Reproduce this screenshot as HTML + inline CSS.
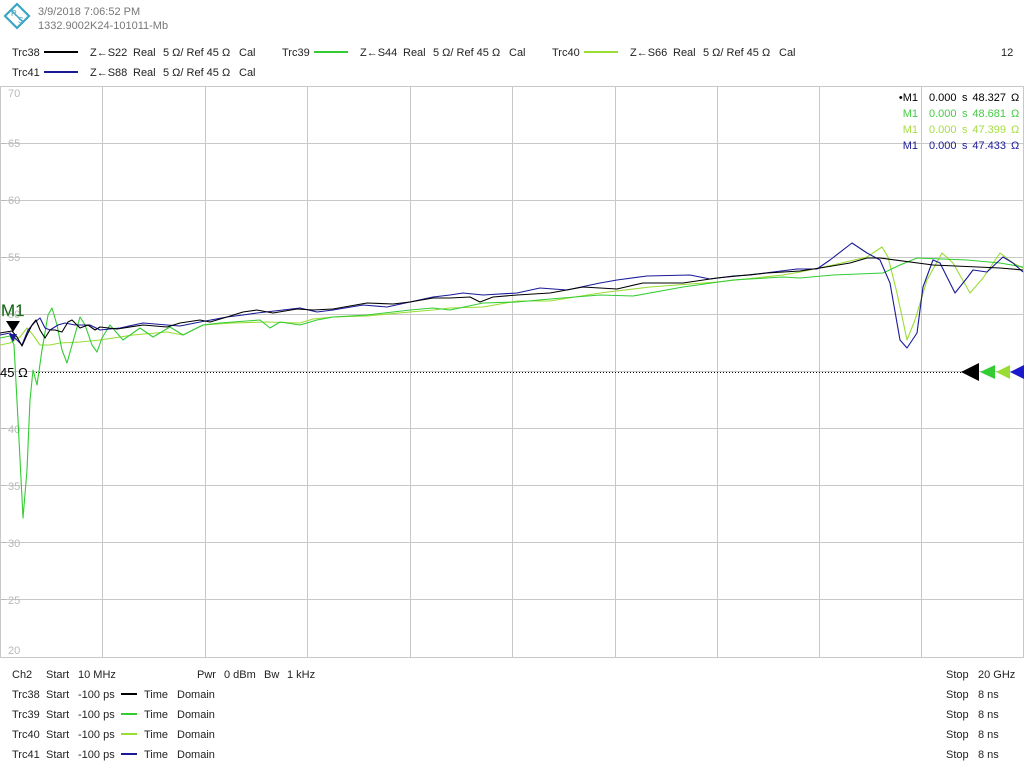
<!DOCTYPE html>
<html><head><meta charset="utf-8"><style>
html,body{margin:0;padding:0;background:#fff;}
svg{display:block;}
text{font-family:"Liberation Sans",sans-serif;}
</style></head><body>
<svg width="1024" height="768" viewBox="0 0 1024 768" xmlns="http://www.w3.org/2000/svg">
<rect width="1024" height="768" fill="#fff"/>
<!-- logo -->
<g transform="translate(17,16)">
<polygon points="0,-12 12,0 0,12 -12,0" fill="none" stroke="#3aa6c4" stroke-width="2.2"/>
<line x1="-6" y1="-6" x2="6" y2="6" stroke="#3aa6c4" stroke-width="1.5"/>
<text x="-6" y="0" font-size="8" fill="#3aa6c4">R</text>
<text x="1" y="7" font-size="8" fill="#3aa6c4">S</text>
</g>
<text x="38" y="15" font-size="11" fill="#777">3/9/2018 7:06:52 PM</text>
<text x="38" y="29" font-size="11" fill="#777">1332.9002K24-101011-Mb</text>
<!-- legend top -->
<g font-size="11" fill="#222">
<text x="12" y="56">Trc38</text><line x1="44" y1="52" x2="78" y2="52" stroke="#000" stroke-width="2"/>
<text x="90" y="56">Z←S22</text><text x="133" y="56">Real</text><text x="163" y="56">5 Ω/ Ref 45 Ω</text><text x="239" y="56">Cal</text>
<text x="282" y="56">Trc39</text><line x1="314" y1="52" x2="348" y2="52" stroke="#33cc33" stroke-width="2"/>
<text x="360" y="56">Z←S44</text><text x="403" y="56">Real</text><text x="433" y="56">5 Ω/ Ref 45 Ω</text><text x="509" y="56">Cal</text>
<text x="552" y="56">Trc40</text><line x1="584" y1="52" x2="618" y2="52" stroke="#99dd33" stroke-width="2"/>
<text x="630" y="56">Z←S66</text><text x="673" y="56">Real</text><text x="703" y="56">5 Ω/ Ref 45 Ω</text><text x="779" y="56">Cal</text>
<text x="1001" y="56">12</text>
<text x="12" y="76">Trc41</text><line x1="44" y1="72" x2="78" y2="72" stroke="#1a1a99" stroke-width="2"/>
<text x="90" y="76">Z←S88</text><text x="133" y="76">Real</text><text x="163" y="76">5 Ω/ Ref 45 Ω</text><text x="239" y="76">Cal</text>
</g>
<!-- grid -->
<g stroke="#c8c8c8" stroke-width="1">
<line x1="0" y1="86.5" x2="1024" y2="86.5"/>
<line x1="0" y1="143.5" x2="1024" y2="143.5"/>
<line x1="0" y1="200.5" x2="1024" y2="200.5"/>
<line x1="0" y1="257.5" x2="1024" y2="257.5"/>
<line x1="0" y1="314.5" x2="1024" y2="314.5"/>
<line x1="0" y1="371.5" x2="1024" y2="371.5"/>
<line x1="0" y1="428.5" x2="1024" y2="428.5"/>
<line x1="0" y1="485.5" x2="1024" y2="485.5"/>
<line x1="0" y1="542.5" x2="1024" y2="542.5"/>
<line x1="0" y1="599.5" x2="1024" y2="599.5"/>
<line x1="0" y1="657.5" x2="1024" y2="657.5"/>
<line x1="0.5" y1="86" x2="0.5" y2="657"/>
<line x1="102.5" y1="86" x2="102.5" y2="657"/>
<line x1="205.5" y1="86" x2="205.5" y2="657"/>
<line x1="307.5" y1="86" x2="307.5" y2="657"/>
<line x1="410.5" y1="86" x2="410.5" y2="657"/>
<line x1="512.5" y1="86" x2="512.5" y2="657"/>
<line x1="615.5" y1="86" x2="615.5" y2="657"/>
<line x1="717.5" y1="86" x2="717.5" y2="657"/>
<line x1="819.5" y1="86" x2="819.5" y2="657"/>
<line x1="921.5" y1="86" x2="921.5" y2="657"/>
<line x1="1023.5" y1="86" x2="1023.5" y2="657"/>
</g>
<g stroke="#b8b8b8" stroke-width="1">
<line x1="1" y1="143.5" x2="6" y2="143.5"/>
<line x1="1" y1="200.5" x2="6" y2="200.5"/>
<line x1="1" y1="257.5" x2="6" y2="257.5"/>
<line x1="1" y1="428.5" x2="6" y2="428.5"/>
<line x1="1" y1="485.5" x2="6" y2="485.5"/>
<line x1="1" y1="542.5" x2="6" y2="542.5"/>
<line x1="1" y1="599.5" x2="6" y2="599.5"/>
</g>
<g font-size="11" fill="#b8b8b8">
<text x="8" y="97">70</text>
<text x="8" y="147">65</text>
<text x="8" y="204">60</text>
<text x="8" y="261">55</text>
<text x="8" y="318">50</text>
<text x="8" y="433">40</text>
<text x="8" y="490">35</text>
<text x="8" y="547">30</text>
<text x="8" y="604">25</text>
<text x="8" y="654">20</text>
</g>
<!-- 45 ref line -->
<line x1="36" y1="372.5" x2="962" y2="372.5" stroke="#000" stroke-width="1" stroke-dasharray="1,2"/>
<text x="0" y="377" font-size="13" fill="#000">45 Ω</text>
<!-- traces -->
<g fill="none" stroke-width="1.1" stroke-linejoin="round">
<polyline stroke="#99dd33" points="0,345 10,343 20,337 27,328 33,335 40,345 50,345 60,343 80,342 100,340 133,335 167,332 183,335 203,325 233,323 267,322 300,323 313,319 333,317 367,316 410,312 433,310 450,308 483,307 517,301 550,301 600,293 650,287 717,282 783,275 800,272 833,265 867,257 882,247 888,257 897,293 907,340 915,320 927,280 942,253 953,263 970,293 983,278 1000,253 1013,263 1023,268"/>
<polyline stroke="#33cc33" points="0,338 10,336 14,345 18,420 23,518 27,470 30,400 33,370 37,385 42,350 48,315 52,308 57,325 62,350 67,363 72,345 80,317 85,325 92,345 97,352 102,338 110,325 123,340 140,328 153,337 170,327 183,335 203,325 220,323 233,322 260,320 270,328 280,322 300,325 317,320 333,317 367,315 410,310 433,308 450,310 483,303 517,302 550,299 600,295 633,296 683,287 733,280 783,277 800,278 833,275 883,273 900,265 917,258 967,260 1000,263 1023,267"/>
<polyline stroke="#1a1a99" points="0,335 10,333 17,340 22,345 28,330 35,322 40,318 45,328 50,330 58,325 65,323 75,325 90,325 100,330 120,328 143,323 167,325 180,326 200,322 227,317 243,315 257,313 283,310 300,308 317,312 333,310 363,305 387,307 410,302 433,297 450,295 463,293 483,295 517,293 540,288 567,290 600,283 617,280 647,276 690,275 710,279 733,276 750,275 797,269 817,269 830,260 852,243 867,253 880,260 890,283 900,340 907,348 917,333 923,287 933,260 940,263 955,293 967,278 973,270 987,272 1003,257 1013,263 1023,272"/>
<polyline stroke="#000" points="0,333 6,332 12,331 17,337 22,346 27,335 32,325 36,320 40,330 45,338 50,330 55,330 62,332 68,322 72,320 80,328 88,325 95,330 100,327 117,329 143,325 167,327 180,323 200,320 210,322 227,317 243,312 257,310 273,313 297,309 313,310 333,309 367,303 393,304 410,302 433,298 450,298 470,297 480,302 493,297 517,295 550,293 583,287 617,289 643,283 683,283 717,278 767,273 800,271 820,268 850,263 867,258 880,258 933,265 1000,268 1023,270"/>
</g>
<!-- M1 markers left -->
<text x="1" y="316" font-size="17" fill="#1a3a1a" stroke="#66cc66" stroke-width="0.4">M1</text>
<polygon points="6,321 20,321 13,332" fill="#000"/>
<polygon points="9,334 17,334 13,342" fill="#1a1a99"/>
<!-- right reference triangles -->
<polygon points="961,372 979,363 979,381" fill="#000"/>
<polygon points="980,372 995,365 995,379" fill="#33cc33"/>
<polygon points="996,372 1010,365 1010,379" fill="#99dd33"/>
<polygon points="1010,372 1024,365 1024,379" fill="#1a1acc"/>
<!-- marker info -->
<g font-size="11">
<text x="918" y="101" text-anchor="end" fill="#000">•M1</text><text x="929" y="101" fill="#000">0.000</text><text x="962" y="101" fill="#000">s</text><text x="1006" y="101" text-anchor="end" fill="#000">48.327</text><text x="1011" y="101" fill="#000">Ω</text>
<text x="918" y="117" text-anchor="end" fill="#44cc44">M1</text><text x="929" y="117" fill="#44cc44">0.000</text><text x="962" y="117" fill="#44cc44">s</text><text x="1006" y="117" text-anchor="end" fill="#44cc44">48.681</text><text x="1011" y="117" fill="#44cc44">Ω</text>
<text x="918" y="133" text-anchor="end" fill="#a6dd44">M1</text><text x="929" y="133" fill="#a6dd44">0.000</text><text x="962" y="133" fill="#a6dd44">s</text><text x="1006" y="133" text-anchor="end" fill="#a6dd44">47.399</text><text x="1011" y="133" fill="#a6dd44">Ω</text>
<text x="918" y="149" text-anchor="end" fill="#1a1a99">M1</text><text x="929" y="149" fill="#1a1a99">0.000</text><text x="962" y="149" fill="#1a1a99">s</text><text x="1006" y="149" text-anchor="end" fill="#1a1a99">47.433</text><text x="1011" y="149" fill="#1a1a99">Ω</text>
</g>
<!-- bottom info -->
<g font-size="11" fill="#222">
<text x="12" y="678">Ch2</text><text x="46" y="678">Start</text><text x="78" y="678">10 MHz</text>
<text x="197" y="678">Pwr</text><text x="224" y="678">0 dBm</text><text x="264" y="678">Bw</text><text x="287" y="678">1 kHz</text>
<text x="946" y="678">Stop</text><text x="978" y="678">20 GHz</text>

<text x="12" y="698">Trc38</text><text x="46" y="698">Start</text><text x="78" y="698">-100 ps</text>
<line x1="121" y1="694" x2="137" y2="694" stroke="#000" stroke-width="2"/>
<text x="144" y="698">Time</text><text x="177" y="698">Domain</text>
<text x="946" y="698">Stop</text><text x="978" y="698">8 ns</text>

<text x="12" y="718">Trc39</text><text x="46" y="718">Start</text><text x="78" y="718">-100 ps</text>
<line x1="121" y1="714" x2="137" y2="714" stroke="#33cc33" stroke-width="2"/>
<text x="144" y="718">Time</text><text x="177" y="718">Domain</text>
<text x="946" y="718">Stop</text><text x="978" y="718">8 ns</text>

<text x="12" y="738">Trc40</text><text x="46" y="738">Start</text><text x="78" y="738">-100 ps</text>
<line x1="121" y1="734" x2="137" y2="734" stroke="#99dd33" stroke-width="2"/>
<text x="144" y="738">Time</text><text x="177" y="738">Domain</text>
<text x="946" y="738">Stop</text><text x="978" y="738">8 ns</text>

<text x="12" y="758">Trc41</text><text x="46" y="758">Start</text><text x="78" y="758">-100 ps</text>
<line x1="121" y1="754" x2="137" y2="754" stroke="#1a1a99" stroke-width="2"/>
<text x="144" y="758">Time</text><text x="177" y="758">Domain</text>
<text x="946" y="758">Stop</text><text x="978" y="758">8 ns</text>
</g>
</svg>
</body></html>
